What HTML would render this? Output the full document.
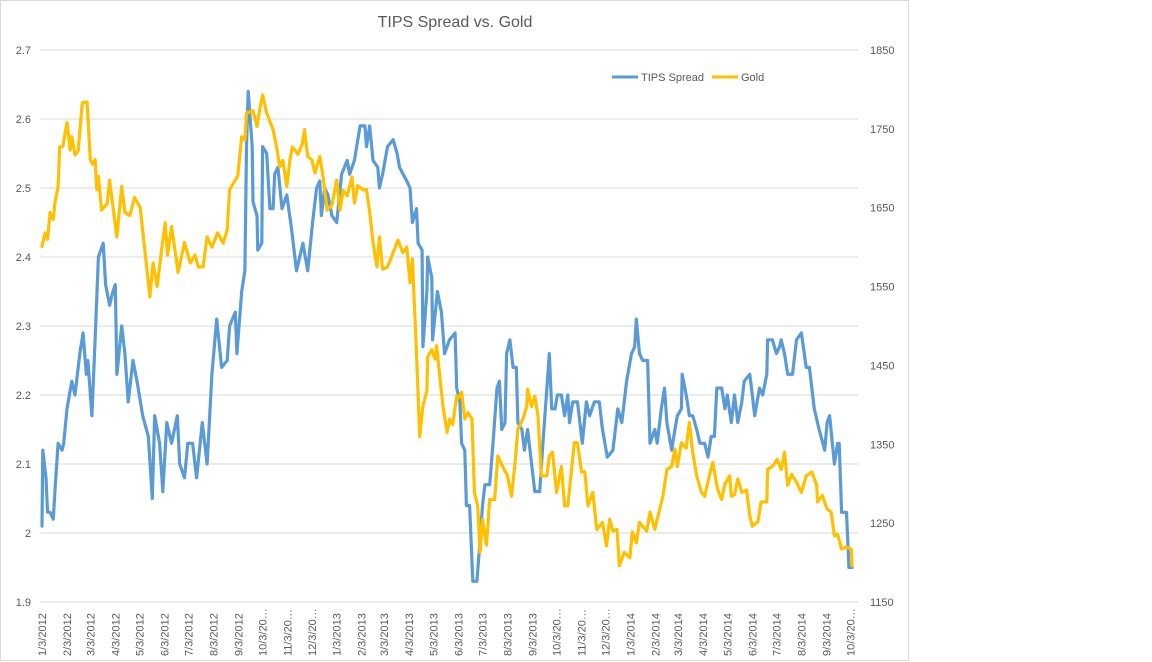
<!DOCTYPE html>
<html><head><meta charset="utf-8"><style>
body{margin:0;background:#fff;font-family:"Liberation Sans",Arial,sans-serif;}
svg{display:block}
</style></head><body>
<svg id="chart" width="1152" height="662" viewBox="0 0 1152 662">
<rect x="0.5" y="0.5" width="908" height="660" fill="#fff" stroke="#d9d9d9"/>
<text x="455" y="27" text-anchor="middle" font-size="16" fill="#595959">TIPS Spread vs. Gold</text>
<g id="grid"></g>
<g id="yl"></g>
<g id="yr"></g>
<g id="xl"></g>
<g id="series"></g>
<g>
<g><line x1="612" y1="77" x2="638" y2="77" stroke="#5B9BD5" stroke-width="3"/><text x="641" y="81" font-size="11" fill="#595959">TIPS Spread</text></g>
<g><line x1="712" y1="77" x2="738" y2="77" stroke="#FFC000" stroke-width="3"/><text x="741" y="81" font-size="11" fill="#595959">Gold</text></g>
</g>
</svg>
<script>
const tipsDays=[0,1,5,7,10,14,16,20,25,27,31,37,41,47,51,55,57,62,66,70,76,79,84,88,91,93,99,103,107,113,118,125,132,137,140,146,150,155,161,168,171,177,181,187,192,199,205,211,217,223,230,233,240,242,248,252,254,256,261,262,267,268,273,274,279,283,287,289,293,298,304,310,316,320,324,330,336,341,345,347,351,355,360,366,372,379,382,388,395,401,403,407,411,417,419,423,429,436,441,444,453,457,460,465,467,472,473,478,479,484,485,491,496,500,506,513,515,519,521,525,527,531,535,540,544,547,550,556,560,565,568,571,575,577,581,585,589,591,596,599,603,608,612,618,622,627,630,633,637,640,645,649,653,655,659,665,671,676,680,686,692,696,702,709,715,720,726,732,736,738,742,746,752,755,761,764,769,773,776,782,786,789,794,795,800,804,808,813,817,823,827,831,835,838,844,848,851,856,860,864,869,872,879,882,885,891,895,900,901,907,912,916,918,922,926,932,937,943,949,953,959,965,972,975,978,984,988,990,993,999,1002,1006];
const tipsVals=[2.01,2.12,2.08,2.03,2.03,2.02,2.06,2.13,2.12,2.13,2.18,2.22,2.20,2.26,2.29,2.23,2.25,2.17,2.28,2.40,2.42,2.36,2.33,2.35,2.36,2.23,2.30,2.26,2.19,2.25,2.22,2.17,2.14,2.05,2.17,2.13,2.06,2.16,2.13,2.17,2.10,2.08,2.13,2.13,2.08,2.16,2.10,2.23,2.31,2.24,2.25,2.30,2.32,2.26,2.35,2.38,2.56,2.64,2.56,2.48,2.46,2.41,2.42,2.56,2.55,2.47,2.47,2.52,2.53,2.47,2.49,2.44,2.38,2.40,2.42,2.38,2.45,2.50,2.51,2.46,2.50,2.49,2.46,2.45,2.52,2.54,2.52,2.54,2.59,2.59,2.56,2.59,2.54,2.53,2.50,2.52,2.56,2.57,2.55,2.53,2.51,2.50,2.45,2.47,2.42,2.41,2.27,2.35,2.40,2.37,2.28,2.35,2.32,2.26,2.28,2.29,2.21,2.19,2.13,2.12,2.04,2.04,1.93,1.93,1.99,2.04,2.07,2.07,2.13,2.21,2.22,2.15,2.16,2.26,2.28,2.24,2.24,2.16,2.15,2.12,2.15,2.10,2.06,2.06,2.13,2.21,2.26,2.18,2.18,2.20,2.20,2.17,2.20,2.16,2.19,2.19,2.13,2.19,2.17,2.19,2.19,2.15,2.11,2.12,2.18,2.16,2.22,2.26,2.27,2.31,2.26,2.25,2.25,2.13,2.15,2.13,2.18,2.21,2.16,2.12,2.15,2.17,2.18,2.23,2.20,2.17,2.17,2.15,2.13,2.13,2.11,2.14,2.14,2.21,2.21,2.18,2.20,2.16,2.20,2.16,2.19,2.22,2.23,2.20,2.17,2.21,2.20,2.23,2.28,2.28,2.26,2.27,2.28,2.26,2.23,2.23,2.28,2.29,2.24,2.24,2.18,2.15,2.12,2.16,2.17,2.10,2.13,2.13,2.03,2.03,1.95,1.95];
const goldDays=[0,4,7,10,14,16,20,22,26,31,35,37,41,45,50,56,60,63,66,68,70,74,81,84,88,93,99,103,109,115,122,128,134,138,143,149,153,156,161,169,177,184,190,194,200,205,211,218,225,230,233,240,243,248,252,254,262,267,271,274,279,287,292,295,299,304,308,311,318,323,326,330,335,339,345,349,354,360,366,370,374,379,385,388,392,398,403,407,411,416,419,423,429,436,442,448,453,457,460,465,469,473,478,479,484,488,490,494,498,503,506,510,515,516,521,525,529,534,537,541,544,547,552,556,562,566,572,578,583,587,591,597,602,603,608,612,616,620,627,630,634,639,645,649,653,658,661,665,670,674,678,684,689,696,701,705,709,714,717,723,730,733,738,742,751,755,761,764,771,776,782,786,789,794,800,804,808,813,819,823,827,833,839,844,848,854,856,860,864,869,875,879,882,889,893,900,901,907,913,918,922,926,931,937,943,949,956,962,963,969,975,980,984,988,993,999,1005,1006];
const goldVals=[1601,1618,1610,1644,1635,1656,1677,1727,1728,1758,1723,1740,1717,1722,1783,1784,1711,1705,1711,1673,1690,1647,1655,1685,1652,1613,1677,1644,1640,1663,1650,1593,1537,1580,1550,1601,1631,1590,1626,1568,1606,1580,1590,1575,1575,1613,1600,1618,1605,1622,1673,1685,1690,1740,1736,1770,1773,1753,1778,1793,1770,1749,1723,1702,1710,1677,1711,1727,1718,1730,1749,1715,1711,1694,1715,1690,1647,1653,1685,1647,1672,1665,1689,1656,1678,1673,1673,1644,1606,1575,1613,1572,1575,1593,1609,1593,1600,1555,1585,1466,1360,1398,1418,1461,1470,1458,1475,1436,1398,1365,1382,1375,1411,1407,1416,1382,1390,1382,1289,1272,1213,1255,1222,1280,1280,1335,1322,1310,1284,1322,1369,1382,1398,1420,1398,1411,1385,1310,1310,1335,1340,1289,1322,1272,1272,1322,1352,1352,1315,1315,1272,1289,1242,1251,1221,1255,1240,1242,1196,1213,1206,1239,1225,1251,1240,1264,1242,1255,1284,1318,1322,1344,1322,1352,1345,1378,1340,1310,1289,1284,1303,1327,1293,1280,1300,1310,1284,1286,1306,1289,1292,1259,1246,1252,1277,1277,1318,1322,1331,1318,1340,1298,1312,1302,1289,1310,1315,1298,1277,1285,1268,1264,1234,1236,1217,1220,1217,1196];
const leftTicks=["1.9","2","2.1","2.2","2.3","2.4","2.5","2.6","2.7"];
const rightTicks=["1150","1250","1350","1450","1550","1650","1750","1850"];
const monthDays=[0,31,60,91,121,152,182,213,244,274,305,335,366,397,425,456,486,517,547,578,609,639,670,700,731,762,790,821,851,882,912,943,974,1004];
const monthLabels=["1/3/2012","2/3/2012","3/3/2012","4/3/2012","5/3/2012","6/3/2012","7/3/2012","8/3/2012","9/3/2012","10/3/2012","11/3/2012","12/3/2012","1/3/2013","2/3/2013","3/3/2013","4/3/2013","5/3/2013","6/3/2013","7/3/2013","8/3/2013","9/3/2013","10/3/2013","11/3/2013","12/3/2013","1/3/2014","2/3/2014","3/3/2014","4/3/2014","5/3/2014","6/3/2014","7/3/2014","8/3/2014","9/3/2014","10/3/2014"];

const NS="http://www.w3.org/2000/svg";
const X0=42,X1=850.5,D1=1004,PL=40,PR=858,TOP=50,BOT=602;
const xS=d=>X0+d/D1*(X1-X0);
const yL=v=>BOT-(v-1.9)/0.8*(BOT-TOP);
const yR=g=>BOT-(g-1150)/700*(BOT-TOP);
function mk(tag,attrs,parent){const e=document.createElementNS(NS,tag);for(const k in attrs)e.setAttribute(k,attrs[k]);parent.appendChild(e);return e;}
const grid=document.getElementById('grid'),yl=document.getElementById('yl'),yr=document.getElementById('yr'),xl=document.getElementById('xl'),ser=document.getElementById('series');
leftTicks.forEach(t=>{const y=yL(parseFloat(t));
 const g=mk('line',{x1:PL,x2:PR,y1:y,y2:y,stroke:'#d9d9d9','stroke-width':1},grid);
 
 
 const tx=mk('text',{x:31,y:y+4,'text-anchor':'end','font-size':11,fill:'#595959'},yl);tx.textContent=t;
 
 
});
rightTicks.forEach(t=>{const y=yR(parseFloat(t));
 const tx=mk('text',{x:870,y:y+4,'font-size':11,fill:'#595959'},yr);tx.textContent=t;
 
 
});
monthDays.forEach((d,i)=>{const x=xS(d);let s=monthLabels[i];if(s.length>8)s=s.slice(0,7)+'…';
 const tx=mk('text',{x:0,y:0,'font-size':11,fill:'#595959',transform:`translate(${x+4},656) rotate(-90)`},xl);tx.textContent=s;
 
 
});
function line(days,vals,ys,color,name){
 const pts=days.map((d,i)=>xS(d).toFixed(1)+','+ys(vals[i]).toFixed(1)).join(' ');
 const p=mk('polyline',{points:pts,fill:'none',stroke:color,'stroke-width':3.2,'stroke-linejoin':'round','stroke-linecap':'round'},ser);
 
 
}
line(tipsDays,tipsVals,yL,'#5B9BD5','tips-spread-line');
line(goldDays,goldVals,yR,'#FFC000','gold-line');
</script>
</body></html>
